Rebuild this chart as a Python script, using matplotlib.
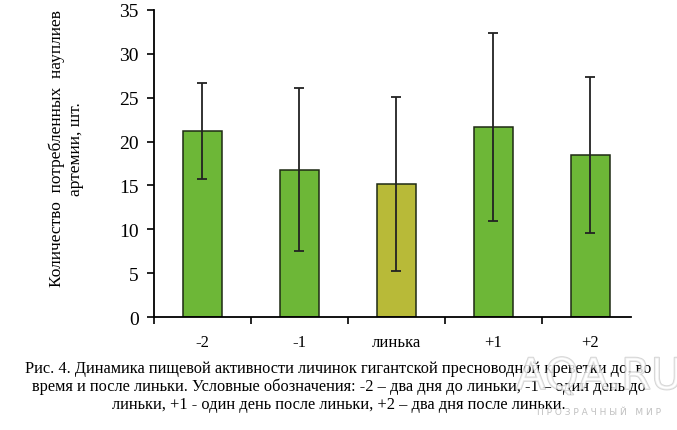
"""
Пищевая активность личинок креветки до, во время и после линьки.
Output: out.png
"""
import matplotlib.pyplot as plt
import matplotlib.patheffects as pe
import numpy as np

categories = ['-2', '-1', 'линька', '+1', '+2']
means = [21.2, 16.8, 15.2, 21.7, 18.5]
errors = [5.5, 9.25, 9.9, 10.7, 8.85]
colors = ['#6DB737', '#6DB737', '#B8BA38', '#6DB737', '#6DB737']

plt.rcParams['font.family'] = ['Liberation Serif', 'DejaVu Serif']

fig = plt.figure(figsize=(6.77, 4.31), dpi=100)
ax = fig.add_axes([0.2275, 0.2615, 0.7045, 0.7135])

x = np.arange(len(categories))
ax.bar(x, means, width=0.4, color=colors, edgecolor='#1e2a14', linewidth=1.1,
       zorder=2)
ax.errorbar(x, means, yerr=errors, fmt='none', ecolor='#222222',
            elinewidth=1.3, capsize=3.5, capthick=1.3, zorder=3)

ax.set_xlim(-0.5, 4.42)
ax.set_ylim(0, 35)
ax.set_yticks(range(0, 36, 5))
ax.tick_params(axis='y', labelsize=14, direction='out', length=5, width=1.2, pad=6)
ax.set_xticks(x)
ax.set_xticklabels(categories)
ax.tick_params(axis='x', which='major', length=0, labelsize=12, pad=12)
ax.set_xticks(np.arange(-0.5, 4.0, 1.0), minor=True)
ax.tick_params(axis='x', which='minor', direction='out', length=5, width=1.2)
for s in ['top', 'right']:
    ax.spines[s].set_visible(False)
for s in ['left', 'bottom']:
    ax.spines[s].set_linewidth(1.3)

fig.text(0.098, 0.655, 'Количество  потребленных  науплиев\nартемии, шт.',
         rotation=90, ha='center', va='center', fontsize=12.5, linespacing=1.25)

caption = ('Рис. 4. Динамика пищевой активности личинок гигантской пресноводной креветки до, во\n'
           'время и после линьки. Условные обозначения: -2 – два дня до линьки, -1 – один день до\n'
           'линьки, +1 - один день после линьки, +2 – два дня после линьки.')
fig.text(0.5, 0.102, caption, ha='center', va='center', fontsize=11.8,
         linespacing=1.12)

# watermark
fig.text(0.885, 0.123, 'AQA.RU', ha='center', va='center', fontsize=31,
         family='DejaVu Sans', color='white', alpha=0.55, zorder=5,
         path_effects=[pe.withStroke(linewidth=1.2, foreground='#b0b0b0')])
fig.text(0.885, 0.043, 'П Р О З Р А Ч Н Ы Й   М И Р', ha='center', va='center',
         fontsize=6.5, family='DejaVu Sans', color='#c0c0c0')

plt.savefig('out.png', dpi=100)
plt.close()
